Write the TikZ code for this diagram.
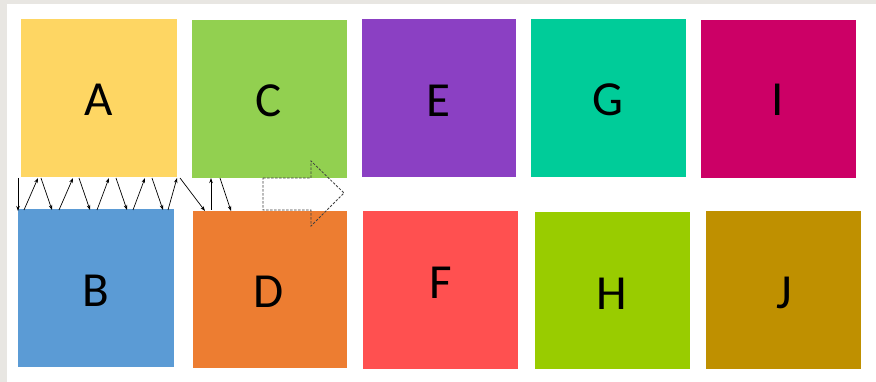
\documentclass[tikz,border=0pt]{standalone}
\usepackage{fontspec}
\setmainfont{Carlito}
\usetikzlibrary{arrows.meta}
\definecolor{cA}{HTML}{FED663}
\definecolor{cB}{HTML}{5B9BD5}
\definecolor{cC}{HTML}{92D050}
\definecolor{cD}{HTML}{ED7D31}
\definecolor{cE}{HTML}{8B40C3}
\definecolor{cF}{HTML}{FF5050}
\definecolor{cG}{HTML}{00CC99}
\definecolor{cH}{HTML}{99CC00}
\definecolor{cI}{HTML}{CC0066}
\definecolor{cJ}{HTML}{BF9000}
\definecolor{frame}{HTML}{E8E6E2}
\begin{document}
\begin{tikzpicture}[x=1pt,y=-1pt,
  box/.style={rectangle,inner sep=0pt,draw=none},
  lett/.style={inner sep=0pt,font=\fontsize{49}{52}\selectfont,text=black},
  arr/.style={line width=0.7pt,-{Stealth[length=5pt,width=3.5pt]}},
  darr/.style={line width=0.8pt,dash pattern=on 2.5pt off 1.5pt,draw=black!75}]
\useasboundingbox (0,0) rectangle (876,382);
\fill[frame] (0,0) rectangle (876,382);
\fill[white] (7,4) rectangle (876,382);
% boxes: fill rectangles as nodes
\node[box,fill=cA,minimum width=156pt,minimum height=158pt] (A) at (99,98) {};
\node[box,fill=cC,minimum width=155pt,minimum height=158pt] (C) at (269.5,99) {};
\node[box,fill=cE,minimum width=154pt,minimum height=158pt] (E) at (439,98) {};
\node[box,fill=cG,minimum width=155pt,minimum height=158pt] (G) at (608.5,98) {};
\node[box,fill=cI,minimum width=155pt,minimum height=158pt] (I) at (778.5,99) {};
\node[box,fill=cB,minimum width=156pt,minimum height=157pt] (B) at (96,288) {};
\node[box,fill=cD,minimum width=154pt,minimum height=157pt] (D) at (270,289.5) {};
\node[box,fill=cF,minimum width=155pt,minimum height=158pt] (F) at (440.5,290) {};
\node[box,fill=cH,minimum width=155pt,minimum height=157pt] (H) at (612.5,290.5) {};
\node[box,fill=cJ,minimum width=155pt,minimum height=157pt] (J) at (783.5,290) {};
% letters
\node[lett] (lA) at (99,100) {A};
\node[lett] (lC) at (269,101) {C};
\node[lett] (lE) at (438,101) {E};
\node[lett] (lG) at (608,100) {G};
\node[lett] (lI) at (778,100) {I};
\node[lett] (lB) at (96,291) {B};
\node[lett] (lD) at (269,292) {D};
\node[lett] (lF) at (441,283) {F};
\node[lett] (lH) at (612,294) {H};
\node[lett] (lJ) at (784,293) {J};
% zigzag arrows between top and bottom rows
\draw[arr] (18,178) -- (18,211);
\draw[arr] (24,210) -- (38,178);
\draw[arr] (41,178) -- (52,210);
\draw[arr] (59,210) -- (73,178);
\draw[arr] (79,178) -- (90,210);
\draw[arr] (97,210) -- (109,178);
\draw[arr] (116,178) -- (127,210);
\draw[arr] (133,210) -- (145,178);
\draw[arr] (152,178) -- (163,210);
\draw[arr] (168,210) -- (177,178);
\draw[arr] (180,178) -- (205,211);
\draw[arr] (211,210) -- (211,178);
\draw[arr] (220,178) -- (231,211);
% dashed block arrow
\coordinate (p1) at (263,178);
\coordinate (p2) at (311,178);
\coordinate (p3) at (311,161);
\coordinate (p4) at (344,193);
\coordinate (p5) at (311,226);
\coordinate (p6) at (311,210);
\coordinate (p7) at (263,210);
\draw[darr] (p1) -- (p2) -- (p3) -- (p4) -- (p5) -- (p6) -- (p7) -- cycle;
\end{tikzpicture}
\end{document}
